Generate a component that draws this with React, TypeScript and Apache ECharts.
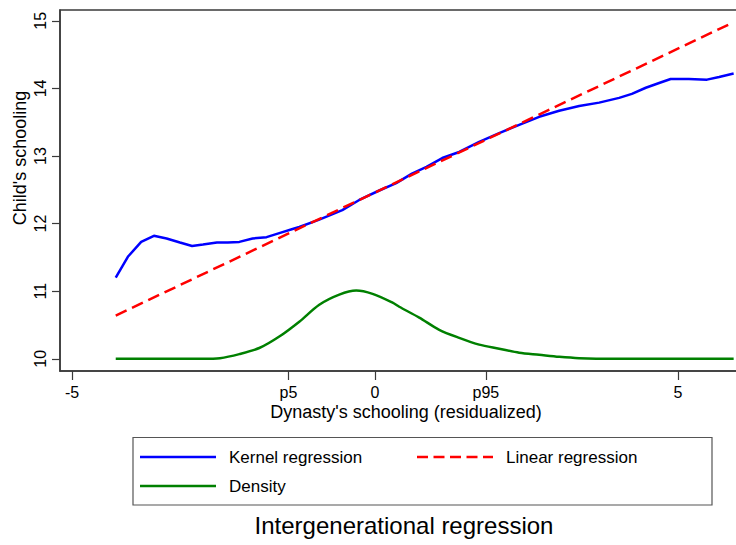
import React, { useEffect, useRef } from "react";
import * as echarts from "echarts";

const kernelX = [-4.28, -4.08, -3.86, -3.65, -3.44, -3.22, -3.02, -2.84, -2.61, -2.43, -2.24, -2.02, -1.79, -1.58, -1.36, -1.25, -0.92, -0.54, -0.26, 0.07, 0.35, 0.61, 0.85, 1.11, 1.39, 1.72, 2.05, 2.38, 2.71, 3.04, 3.37, 3.7, 4.03, 4.24, 4.47, 4.69, 4.88, 5.18, 5.48, 5.68, 5.92];
const kernelY = [11.2, 11.51, 11.73, 11.82, 11.78, 11.72, 11.67, 11.69, 11.72, 11.72, 11.73, 11.78, 11.8, 11.86, 11.92, 11.95, 12.06, 12.2, 12.35, 12.49, 12.6, 12.74, 12.84, 12.97, 13.06, 13.21, 13.34, 13.46, 13.58, 13.67, 13.74, 13.79, 13.86, 13.92, 14.01, 14.08, 14.14, 14.14, 14.13, 14.17, 14.22];

const linearX = [-4.28, 5.92];
const linearY = [10.64, 14.98];

const densityX = [-4.28, -2.84, -2.56, -2.24, -1.91, -1.58, -1.25, -0.92, -0.59, -0.31, -0.04, 0.29, 0.4, 0.73, 1.06, 1.39, 1.72, 2.05, 2.38, 2.71, 3.04, 3.37, 3.91, 5.92];
const densityY = [10.0, 10.0, 10.01, 10.07, 10.16, 10.33, 10.55, 10.8, 10.95, 11.01, 10.96, 10.83, 10.77, 10.61, 10.43, 10.31, 10.21, 10.15, 10.09, 10.06, 10.03, 10.01, 10.0, 10.0];

const xTickValues = [-5, -1.43, 0, 1.83, 5];
const xTickLabels = ["-5", "p5", "0", "p95", "5"];
const yTickValues = [10, 11, 12, 13, 14, 15];

const seriesNames = ["Kernel regression", "Linear regression", "Density"];
const seriesColors = ["#0000ff", "#ff0000", "#008000"];
const titleText = "Intergenerational regression";
const xTitle = "Dynasty's schooling (residualized)";
const yTitle = "Child's schooling";

const zip = (xs: number[], ys: number[]) => xs.map((x, i) => [x, ys[i]]);

const FONT = "Liberation Sans";
const AXIS_COLOR = "#3a3a3a";
const DASH = [12, 6];

export default function App() {
  const ref = useRef<HTMLDivElement>(null);
  useEffect(() => {
    if (!ref.current) return;
    const chart = echarts.init(ref.current, undefined, { renderer: "svg" });

    const legendItems = [
      { name: seriesNames[0], color: seriesColors[0], x: 140, y: 457, dash: null },
      { name: seriesNames[1], color: seriesColors[1], x: 417, y: 457, dash: [11, 5.5] },
      { name: seriesNames[2], color: seriesColors[2], x: 140, y: 486, dash: null },
    ];
    const legendGraphics: any[] = [];
    legendItems.forEach((it) => {
      legendGraphics.push({
        type: "line",
        shape: { x1: it.x, y1: it.y, x2: it.x + 76, y2: it.y },
        style: { stroke: it.color, lineWidth: 2.5, lineDash: it.dash || undefined },
      });
      legendGraphics.push({
        type: "text",
        x: it.x + 89,
        y: it.y,
        style: {
          text: it.name,
          fontSize: 17,
          fontFamily: FONT,
          fill: "#000",
          align: "left",
          verticalAlign: "middle",
        },
      });
    });

    chart.setOption({
      animation: false,
      backgroundColor: "#ffffff",
      textStyle: { fontFamily: FONT },
      grid: {
        left: 60,
        top: 10,
        width: 690,
        height: 361,
        show: true,
        borderColor: AXIS_COLOR,
        borderWidth: 1.5,
        containLabel: false,
        outerBoundsMode: "none",
      },
      xAxis: {
        type: "value",
        min: -5.2,
        max: 6.19,
        splitLine: { show: false },
        axisLine: { show: true, onZero: false, lineStyle: { color: AXIS_COLOR, width: 1.5 } },
        axisTick: {
          show: true,
          customValues: xTickValues,
          length: 9,
          lineStyle: { color: AXIS_COLOR, width: 1.2 },
        },
        axisLabel: {
          customValues: xTickValues,
          margin: 13,
          fontSize: 16,
          color: "#000",
          fontFamily: FONT,
          formatter: (v: number) => {
            const i = xTickValues.findIndex((t) => Math.abs(t - v) < 1e-6);
            return i >= 0 ? xTickLabels[i] : "";
          },
        },
      },
      yAxis: {
        type: "value",
        min: 9.82,
        max: 15.16,
        splitLine: { show: false },
        axisLine: { show: true, onZero: false, lineStyle: { color: AXIS_COLOR, width: 1.5 } },
        axisTick: {
          show: true,
          customValues: yTickValues,
          length: 8,
          lineStyle: { color: AXIS_COLOR, width: 1.2 },
        },
        axisLabel: {
          customValues: yTickValues,
          rotate: 90,
          margin: 12,
          fontSize: 16,
          color: "#000",
          fontFamily: FONT,
        },
      },
      graphic: [
        {
          type: "rect",
          shape: { x: 133, y: 437.5, width: 579, height: 67.5 },
          style: { fill: "none", stroke: "#555", lineWidth: 1.2 },
          z: -1,
        },
        ...legendGraphics,
        {
          type: "text",
          x: 20,
          y: 158,
          rotation: Math.PI / 2,
          style: {
            text: yTitle,
            fontSize: 18,
            fontFamily: FONT,
            fill: "#000",
            align: "center",
            verticalAlign: "middle",
          },
        },
        {
          type: "text",
          x: 406,
          y: 412,
          style: {
            text: xTitle,
            fontSize: 18,
            fontFamily: FONT,
            fill: "#000",
            align: "center",
            verticalAlign: "middle",
          },
        },
        {
          type: "text",
          x: 404,
          y: 525,
          style: {
            text: titleText,
            fontSize: 24,
            fontFamily: FONT,
            fill: "#000",
            align: "center",
            verticalAlign: "middle",
          },
        },
      ],
      series: [
        {
          name: seriesNames[0],
          type: "line",
          data: zip(kernelX, kernelY),
          showSymbol: false,
          symbol: "none",
          lineStyle: { color: seriesColors[0], width: 2.5 },
          itemStyle: { color: seriesColors[0] },
          z: 3,
        },
        {
          name: seriesNames[1],
          type: "line",
          data: zip(linearX, linearY),
          showSymbol: false,
          symbol: "none",
          lineStyle: { color: seriesColors[1], width: 2.5, type: DASH },
          itemStyle: { color: seriesColors[1] },
          z: 4,
        },
        {
          name: seriesNames[2],
          type: "line",
          data: zip(densityX, densityY),
          smooth: 0.3,
          showSymbol: false,
          symbol: "none",
          lineStyle: { color: seriesColors[2], width: 2.5 },
          itemStyle: { color: seriesColors[2] },
          z: 2,
        },
      ],
    });
    return () => chart.dispose();
  }, []);
  return (
    <div
      ref={ref}
      style={{ position: "fixed", left: 0, top: 0, width: 736, height: 545 }}
    />
  );
}
